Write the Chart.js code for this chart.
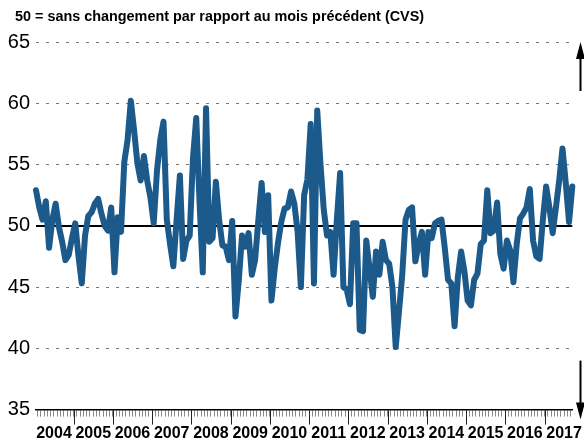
<!DOCTYPE html>
<html>
<head>
<meta charset="utf-8">
<script src="https://cdn.jsdelivr.net/npm/chart.js@4/dist/chart.umd.min.js"></script>
<style>
  html, body { margin: 0; padding: 0; background: #fff; }
  #wrap { width: 584px; height: 442px; }
</style>
</head>
<body>
<div id="wrap"><canvas id="pmi" width="584" height="442"></canvas></div>
<script>
const startYear = 2004;
const years = [2004, 2005, 2006, 2007, 2008, 2009, 2010, 2011, 2012, 2013, 2014, 2015, 2016, 2017];
const yTicks = [35, 40, 45, 50, 55, 60, 65];
const titleText = '50 = sans changement par rapport au mois précédent (CVS)';

// monthly index, 50 = no change vs previous month
const values = [
  52.9, 51.5, 50.5, 52.0, 48.2, 50.5, 51.8, 49.9, 48.7, 47.2, 47.6, 49.0,
  50.2, 47.5, 45.3, 49.2, 50.8, 51.1, 51.8, 52.2, 51.0, 50.0, 49.6, 51.5,
  46.2, 50.7, 49.5, 55.2, 57.0, 60.2, 57.8, 55.1, 53.7, 55.7, 53.7, 52.3,
  50.2, 54.5, 57.0, 58.5, 50.5, 48.5, 46.7, 50.5, 54.1, 47.3, 48.8, 49.2,
  55.5, 58.8, 52.0, 46.2, 59.6, 48.7, 49.0, 53.6, 50.5, 48.4, 48.3, 47.2,
  50.4, 42.6, 45.5, 49.2, 48.3, 49.4, 46.0, 47.2, 50.5, 53.5, 49.5, 52.5,
  43.9, 46.5, 48.6, 50.3, 51.4, 51.5, 52.8, 51.8, 49.5, 45.0, 52.5, 53.8,
  58.3, 45.3, 59.4, 55.0, 51.3, 49.2, 49.5, 46.0, 50.5, 54.3, 45.0, 44.8,
  43.6, 50.2, 50.2, 41.5, 41.4, 48.8, 46.5, 44.2, 47.9, 46.0, 48.7, 47.2,
  46.9, 45.0, 40.1, 43.0, 46.0, 50.5, 51.3, 51.5, 47.1, 48.5, 49.5, 46.0,
  49.5, 49.0, 50.2, 50.4, 50.5, 48.2, 45.6, 45.3, 41.8, 45.8, 47.9, 46.3,
  43.9, 43.5, 45.6, 46.1, 48.5, 48.8, 52.9, 49.4, 49.6, 51.9, 47.7, 46.5,
  48.8, 48.0, 45.4, 48.5, 50.6, 51.0, 51.5, 53.0, 48.8, 47.5, 47.3, 50.5,
  53.2, 51.5, 49.4, 51.5, 53.7, 56.3, 53.5, 50.3, 53.2
];

const points = values.map((v, i) => ({ x: i, y: v }));
const yearEdges = years.slice(1).map(yr => (yr - startYear) * 12 - 0.5);
const yearMid = {};
years.forEach(yr => { yearMid[(yr - startYear) * 12 + 5.5] = String(yr); });

const decor = {
  id: 'decor',
  afterDraw(chart) {
    const { ctx } = chart;
    const x = chart.scales.x, y = chart.scales.y;
    ctx.save();
    // title
    ctx.fillStyle = '#000';
    ctx.font = 'bold 14.4px "Liberation Sans", Arial, sans-serif';
    ctx.textAlign = 'left';
    ctx.textBaseline = 'middle';
    ctx.fillText(titleText, 15, 17);
    // longer ticks at year boundaries
    ctx.strokeStyle = '#222';
    ctx.lineWidth = 1;
    yearEdges.forEach(v => {
      const px = Math.round(x.getPixelForValue(v)) + 0.5;
      ctx.beginPath();
      ctx.moveTo(px, y.bottom);
      ctx.lineTo(px, y.bottom + 15);
      ctx.stroke();
    });
    // up / down arrows on the right
    const ax = chart.width - 3.5;
    const arrow = (from, to) => {
      const y0 = y.getPixelForValue(from), y1 = y.getPixelForValue(to);
      const dir = y1 < y0 ? 1 : -1;
      ctx.fillStyle = '#000';
      ctx.strokeStyle = '#000';
      ctx.lineWidth = 2;
      ctx.beginPath();
      ctx.moveTo(ax, y0);
      ctx.lineTo(ax, y1 + dir * 14);
      ctx.stroke();
      ctx.beginPath();
      ctx.moveTo(ax, y1);
      ctx.lineTo(ax - 4.5, y1 + dir * 17);
      ctx.lineTo(ax + 4.5, y1 + dir * 17);
      ctx.closePath();
      ctx.fill();
    };
    arrow(61, 65);
    arrow(39, 34.2);
    ctx.restore();
  }
};

new Chart(document.getElementById('pmi'), {
  type: 'line',
  data: {
    datasets: [{
      data: points,
      borderColor: '#1b5a8b',
      borderWidth: 6,
      pointRadius: 0,
      tension: 0,
      borderJoinStyle: 'round',
      borderCapStyle: 'round',
      clip: false
    }]
  },
  options: {
    responsive: false,
    animation: false,
    layout: { padding: { left: 0, right: 11.7, top: 42, bottom: 0 } },
    plugins: {
      legend: { display: false },
      tooltip: { enabled: false },
      title: { display: false }
    },
    scales: {
      x: {
        type: 'linear',
        min: 0,
        max: values.length - 1,
        afterBuildTicks: s => {
          const t = [];
          for (let m = 0; m < values.length - 1; m++) t.push({ value: m + 0.5 });
          s.ticks = t;
        },
        afterFit: s => { s.height = 32.4; },
        ticks: {
          autoSkip: false,
          maxRotation: 0,
          minRotation: 0,
          padding: 7,
          color: '#000',
          font: { family: 'Liberation Sans, Arial, sans-serif', size: 16, weight: 'bold' },
          callback: v => yearMid[v] || ''
        },
        grid: {
          drawOnChartArea: false,
          drawTicks: true,
          tickLength: 7,
          tickColor: '#888',
          tickWidth: 1
        },
        border: { display: true, color: '#000', width: 1.5 }
      },
      y: {
        min: 35,
        max: 65,
        afterBuildTicks: s => { s.ticks = yTicks.map(v => ({ value: v })); },
        afterFit: s => { s.width = 36; },
        ticks: {
          padding: 6,
          color: '#000',
          font: { family: 'Liberation Sans, Arial, sans-serif', size: 20 }
        },
        grid: {
          drawTicks: false,
          color: c => c.tick.value === 35 ? 'rgba(0,0,0,0)' : (c.tick.value === 50 ? '#000' : '#777'),
          lineWidth: c => c.tick.value === 50 ? 2 : 1
        },
        border: {
          display: false,
          dash: c => c.tick && c.tick.value === 50 ? [] : [3, 7]
        }
      }
    }
  },
  plugins: [decor]
});
</script>
</body>
</html>
